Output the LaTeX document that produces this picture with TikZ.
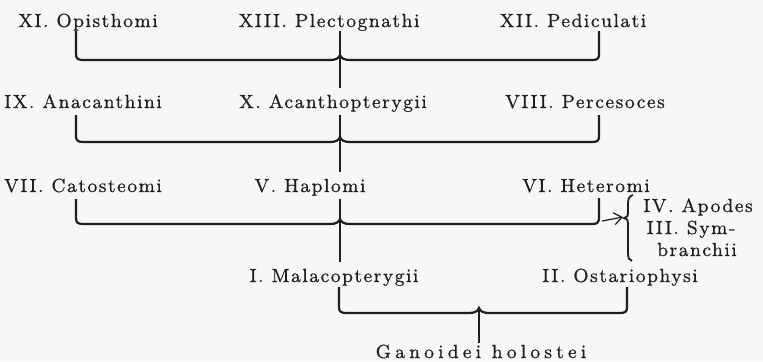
\documentclass[tikz,border=0pt]{standalone}
\usepackage{fontspec}
\newfontfamily\lblfont{Latin Modern Roman}[LetterSpace=8,FakeBold=0.6]
\newfontfamily\widefont{Latin Modern Roman}[LetterSpace=22,FakeBold=0.6]
\usetikzlibrary{arrows.meta}
\definecolor{ink}{HTML}{1E1E1E}
\definecolor{paper}{HTML}{F7F7F7}
\begin{document}
\begin{tikzpicture}[x=0.5pt,y=-0.5pt,
  lbl/.style={anchor=base,inner sep=0pt,text=ink,
    font=\lblfont\fontsize{9.5}{11}\selectfont},
  wide/.style={lbl,font=\widefont\fontsize{9.5}{11}\selectfont},
  ln/.style={line width=1.1pt,draw=ink},
  thin/.style={line width=0.6pt,draw=ink},
  ]
\fill[paper] (0,0) rectangle (763,361);
\useasboundingbox (0,0) rectangle (763,361);

% labels
\node[lbl] (op) at (88,27) {XI. Opisthomi};
\node[lbl] (pl) at (329,27) {XIII. Plectognathi};
\node[lbl] (pe) at (573,27) {XII. Pediculati};
\node[lbl] (an) at (83,108) {IX. Anacanthini};
\node[lbl] (ac) at (333,108) {X. Acanthopterygii};
\node[lbl] (pc) at (585,108) {VIII. Percesoces};
\node[lbl] (ca) at (83,192) {VII. Catosteomi};
\node[lbl] (ha) at (310,192) {V. Haplomi};
\node[lbl] (he) at (586,192) {VI. Heteromi};
\node[lbl] (ap) at (698,212) {IV. Apodes};
\node[lbl] (sy) at (691,234) {III. Sym-};
\node[lbl] (bn) at (697,256) {branchii};
\node[lbl] (ma) at (334,282) {I. Malacopterygii};
\node[lbl] (os) at (620,282) {II. Ostariophysi};
\node[wide] (ga) at (481,358) {Ganoidei holostei};

% junction coordinates
\coordinate (l1) at (76,31);  \coordinate (r1) at (599,31);
\coordinate (c1) at (340,31); \coordinate (c1b) at (340,88);
\coordinate (l2) at (76,115); \coordinate (r2) at (599,115);
\coordinate (c2) at (340,115); \coordinate (c2b) at (340,172);
\coordinate (l3) at (76,199); \coordinate (r3) at (599,198);
\coordinate (c3) at (340,199); \coordinate (c3b) at (340,262);
\coordinate (l4) at (339,287); \coordinate (r4) at (627,287);
\coordinate (c4) at (479,308); \coordinate (c4b) at (479,343);
\coordinate (arS) at (602,221); \coordinate (arE) at (623,217);

% bracket 1
\draw[ln] (l1) -- (76,54) .. controls (76,59) and (78,60) .. (84,60)
  -- (330,60) .. controls (336,60) and (339,58) .. (340,55)
  .. controls (341,58) and (344,60) .. (350,60) -- (592,60)
  .. controls (598,60) and (599,58) .. (599,54) -- (r1);
\draw[ln] (c1) -- (c1b);
% bracket 2
\draw[ln] (l2) -- (76,136) .. controls (76,141) and (78,142) .. (84,142)
  -- (330,142) .. controls (336,142) and (339,140) .. (340,137)
  .. controls (341,140) and (344,142) .. (350,142) -- (592,142)
  .. controls (598,142) and (599,140) .. (599,136) -- (r2);
\draw[ln] (c2) -- (c2b);
% bracket 3
\draw[ln] (l3) -- (76,218) .. controls (76,223) and (78,224) .. (84,224)
  -- (330,224) .. controls (336,224) and (339,222) .. (340,219)
  .. controls (341,222) and (344,224) .. (350,224) -- (592,224)
  .. controls (598,224) and (599,222) .. (599,217) -- (r3);
\draw[ln] (c3) -- (c3b);
% arrow and brace
\draw[thin,-{Straight Barb[length=4pt,width=6pt]}] (arS) -- (arE);
\draw[line width=0.9pt,draw=ink] (633,195) .. controls (629,196) and (628,199) .. (628,204)
  -- (628,212) .. controls (628,216) and (627,218) .. (624,218)
  .. controls (627,218) and (628,220) .. (628,225)
  -- (628,253) .. controls (628,258) and (629,260) .. (632,261);
% bracket 4
\draw[ln] (l4) -- (339,307) .. controls (339,312) and (341,313) .. (347,313)
  -- (469,313) .. controls (475,313) and (478,311) .. (479,308)
  .. controls (480,311) and (483,313) .. (489,313) -- (620,313)
  .. controls (626,313) and (627,311) .. (627,307) -- (r4);
\draw[ln] (c4) -- (c4b);
\end{tikzpicture}
\end{document}
